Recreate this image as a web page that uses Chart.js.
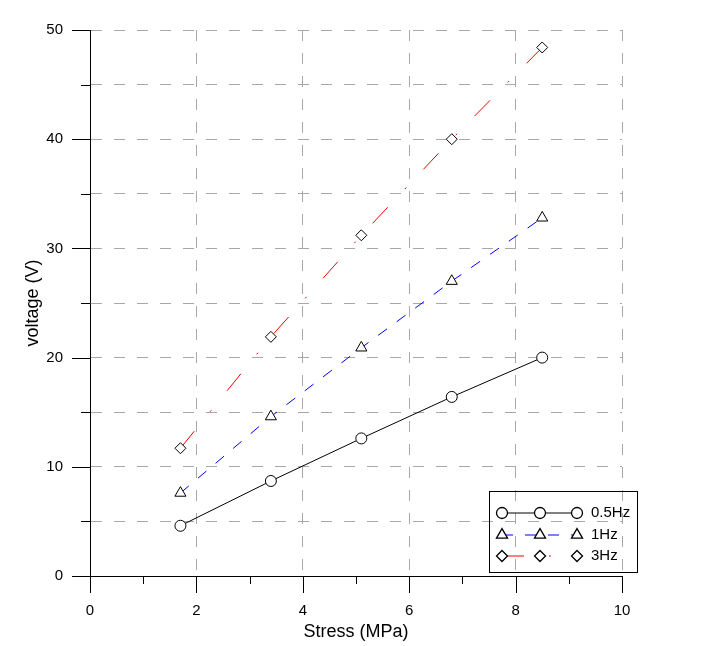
<!DOCTYPE html>
<html>
<head>
<meta charset="utf-8">
<script src="https://cdn.jsdelivr.net/npm/chart.js@4.4.0/dist/chart.umd.min.js"></script>
<style>
  html, body { margin: 0; padding: 0; background: #fff; }
</style>
</head>
<body>
<canvas id="chart" width="722" height="646"></canvas>
<script>
// data
const stress = [1.7, 3.4, 5.1, 6.8, 8.5];
const volt05 = [4.6, 8.7, 12.6, 16.4, 20.0];
const volt1 = [7.6, 14.6, 20.9, 27.0, 32.8];
const volt3 = [11.7, 21.9, 31.2, 40.0, 48.4];
const seriesNames = ['0.5Hz', '1Hz', '3Hz'];
const xLabels = [0, 2, 4, 6, 8, 10];
const yLabels = [0, 10, 20, 30, 40, 50];

const FONT = "'Liberation Sans', Arial, sans-serif";
const GRID = '#a8a8a8';

function pts(ys) {
  return stress.map((x, i) => ({ x: x, y: ys[i] }));
}

// outward ticks, long at labelled values, short between
const tickMarks = {
  id: 'tickMarks',
  afterDraw(chart) {
    const ctx = chart.ctx;
    const xs = chart.scales.x, ys = chart.scales.y;
    const a = chart.chartArea;
    ctx.save();
    ctx.strokeStyle = '#000';
    ctx.lineWidth = 1;
    ctx.beginPath();
    for (let v = 0; v <= 50; v += 5) {
      const py = Math.round(ys.getPixelForValue(v)) + 0.5;
      const len = yLabels.includes(v) ? 18 : 9;
      ctx.moveTo(a.left - len, py);
      ctx.lineTo(a.left, py);
    }
    for (let v = 0; v <= 10; v += 1) {
      const px = Math.round(xs.getPixelForValue(v)) + 0.5;
      const len = xLabels.includes(v) ? 17 : 8;
      ctx.moveTo(px, a.bottom);
      ctx.lineTo(px, a.bottom + len);
    }
    ctx.stroke();
    ctx.restore();
  }
};

function marker(ctx, shape, x, y, r) {
  ctx.beginPath();
  if (shape === 'circle') {
    ctx.arc(x, y, r, 0, Math.PI * 2);
  } else if (shape === 'triangle') {
    ctx.moveTo(x, y - r);
    ctx.lineTo(x + r * Math.sin(Math.PI * 2 / 3), y + r / 2);
    ctx.lineTo(x - r * Math.sin(Math.PI * 2 / 3), y + r / 2);
    ctx.closePath();
  } else {
    ctx.moveTo(x, y - r);
    ctx.lineTo(x + r, y);
    ctx.lineTo(x, y + r);
    ctx.lineTo(x - r, y);
    ctx.closePath();
  }
  ctx.fillStyle = '#fff';
  ctx.fill();
  ctx.strokeStyle = '#000';
  ctx.lineWidth = 1.3;
  ctx.stroke();
}

// legend box with three markers per row like the original
const boxLegend = {
  id: 'boxLegend',
  afterDraw(chart) {
    const ctx = chart.ctx;
    ctx.save();
    ctx.strokeStyle = '#000';
    ctx.lineWidth = 1;
    ctx.strokeRect(489.5, 491.5, 148, 81);
    const rowY = [513, 535, 556];
    const mx = [502, 540, 577];
    chart.data.datasets.forEach((ds, i) => {
      const y = rowY[i];
      ctx.save();
      ctx.strokeStyle = ds.borderColor;
      ctx.lineWidth = ds.borderWidth;
      ctx.setLineDash(ds.borderDash || []);
      ctx.beginPath();
      ctx.moveTo(mx[0], y);
      ctx.lineTo(mx[2], y);
      ctx.stroke();
      ctx.restore();
      mx.forEach(x => marker(ctx, ds.pointStyle, x, y, ds.pointRadius));
      ctx.fillStyle = '#000';
      ctx.font = '15px ' + FONT;
      ctx.textBaseline = 'middle';
      ctx.textAlign = 'left';
      ctx.fillText(ds.label, 591, y);
    });
    ctx.restore();
  }
};

new Chart(document.getElementById('chart'), {
  type: 'line',
  data: {
    datasets: [
      {
        label: seriesNames[0],
        data: pts(volt05),
        borderColor: '#000',
        borderWidth: 1,
        pointStyle: 'circle',
        pointRadius: 5.5,
        pointBorderColor: '#000',
        pointBackgroundColor: '#fff'
      },
      {
        label: seriesNames[1],
        data: pts(volt1),
        borderColor: '#0000ee',
        borderWidth: 1,
        borderDash: [11, 12],
        pointStyle: 'triangle',
        pointRadius: 6.4,
        pointBorderColor: '#000',
        pointBackgroundColor: '#fff'
      },
      {
        label: seriesNames[2],
        data: pts(volt3),
        borderColor: '#ee0000',
        borderWidth: 1,
        borderDash: [22, 25, 2, 25],
        pointStyle: 'rectRot',
        pointRadius: 5.5,
        pointBorderColor: '#000',
        pointBackgroundColor: '#fff'
      }
    ]
  },
  options: {
    responsive: false,
    animation: false,
    layout: { padding: { top: 30, right: 100, left: 0, bottom: 0 } },
    elements: {
      line: { tension: 0, fill: false },
      point: { borderWidth: 1.3, hoverRadius: 5.5 }
    },
    plugins: {
      legend: { display: false },
      tooltip: { enabled: false }
    },
    scales: {
      x: {
        type: 'linear',
        min: 0,
        max: 10,
        afterFit(s) { s.height = 70; },
        ticks: {
          stepSize: 1,
          autoSkip: false,
          maxRotation: 0,
          padding: 26,
          color: '#000',
          font: { family: FONT, size: 15 },
          callback: v => xLabels.includes(v) ? v : ''
        },
        grid: {
          drawTicks: false,
          color: c => (c.tick && c.tick.value % 2 === 0 && c.tick.value !== 0) ? GRID : 'rgba(0,0,0,0)',
          lineWidth: 1
        },
        border: { display: true, color: '#000', width: 1, dash: [11, 12] },
        title: {
          display: true,
          text: 'Stress (MPa)',
          color: '#000',
          font: { family: FONT, size: 18 },
          padding: { top: 0, bottom: 3 }
        }
      },
      y: {
        min: 0,
        max: 50,
        afterFit(s) { s.width = 90; s.paddingTop = 0; s.paddingBottom = 0; },
        ticks: {
          stepSize: 5,
          autoSkip: false,
          padding: 27,
          color: '#000',
          font: { family: FONT, size: 15 },
          callback: v => yLabels.includes(v) ? v : ''
        },
        grid: {
          drawTicks: false,
          color: c => (c.tick && c.tick.value !== 0) ? GRID : 'rgba(0,0,0,0)',
          lineWidth: 1
        },
        border: { display: true, color: '#000', width: 1, dash: [11, 12] },
        title: {
          display: true,
          text: 'voltage (V)',
          color: '#000',
          font: { family: FONT, size: 18 },
          padding: { top: 22, bottom: 0 }
        }
      }
    }
  },
  plugins: [tickMarks, boxLegend]
});
</script>
</body>
</html>
